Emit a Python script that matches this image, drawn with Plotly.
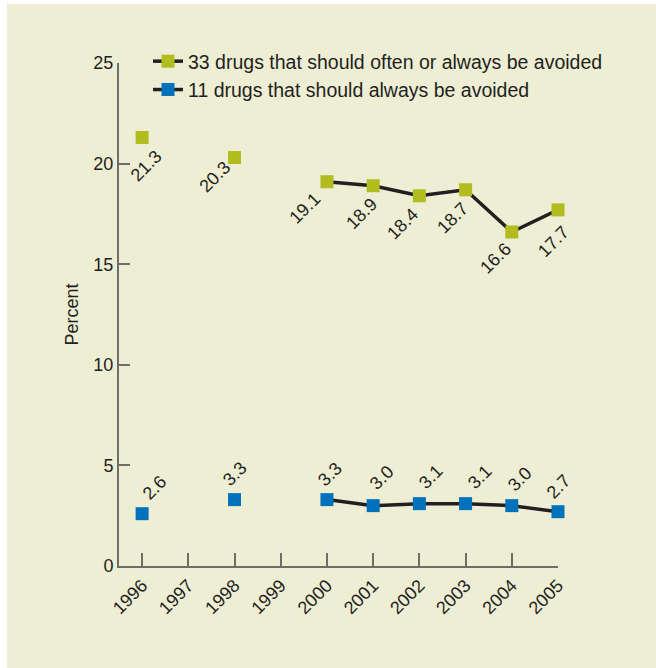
import plotly.graph_objects as go

# Dados
anos = [1996, 1997, 1998, 1999, 2000, 2001, 2002, 2003, 2004, 2005]
drogas_33 = [21.3, None, 20.3, None, 19.1, 18.9, 18.4, 18.7, 16.6, 17.7]
drogas_11 = [2.6, None, 3.3, None, 3.3, 3.0, 3.1, 3.1, 3.0, 2.7]
nome_33 = "33 drugs that should often or always be avoided"
nome_11 = "11 drugs that should always be avoided"

# Estilo
bege = "#EEEED4"
verde = "#B1BC1F"
azul = "#0072BC"
escuro = "#231F20"
cinza = "#6D6E6A"
fonte = "Liberation Sans, Arial, sans-serif"

# deslocamento dos rótulos (px) em relação ao marcador
desloc_33 = [(4, -29), None, (-20, -19), None, (-22, -26), (-12, -28), (-17, -28), (-13, -28), (-16, -26), (-5, -32)]
desloc_11 = [(12, 26), None, (0, 26), None, (3, 26), (8, 28), (11, 27), (14, 27), (8, 27), (0, 25)]

fig = go.Figure()
for nome, valores, cor in [(nome_33, drogas_33, verde), (nome_11, drogas_11, azul)]:
    fig.add_trace(go.Scatter(
        x=anos, y=valores, name=nome, mode="lines+markers",
        line=dict(color=escuro, width=3.5),
        marker=dict(symbol="square", size=13, color=cor),
        connectgaps=False, cliponaxis=False
    ))

# Rótulos inclinados
anotacoes = []
for valores, desloc in [(drogas_33, desloc_33), (drogas_11, desloc_11)]:
    for ano, v, d in zip(anos, valores, desloc):
        if v is None:
            continue
        anotacoes.append(dict(
            x=ano, y=v, text=f"{v:.1f}", textangle=-45, showarrow=False,
            xanchor="center", yanchor="middle", xshift=d[0], yshift=d[1],
            font=dict(size=18, color=escuro, family=fonte)
        ))

# fundo bege com faixa branca à esquerda e no topo
L, T, W, H = 119, 63, 439, 503
fundo = dict(
    type="rect", xref="paper", yref="paper", layer="below",
    x0=(7 - L) / W, x1=(660 - L) / W,
    y0=(T + H - 672) / H, y1=(T + H - 4) / H,
    fillcolor=bege, line=dict(width=0)
)

fig.update_layout(
    width=656, height=668,
    margin=dict(l=L, r=656 - L - W, t=T, b=668 - T - H),
    paper_bgcolor="white", plot_bgcolor="rgba(0,0,0,0)",
    font=dict(family=fonte, size=18, color=escuro),
    shapes=[fundo],
    annotations=anotacoes,
    showlegend=True,
    legend=dict(
        x=(148 - L) / W, xanchor="left",
        y=(T + H - 42) / H, yanchor="top",
        bgcolor="rgba(0,0,0,0)", font=dict(size=19.5, color=escuro, family=fonte),
        tracegroupgap=0
    ),
    xaxis=dict(
        range=[1995.5, 2005], tickmode="array", tickvals=anos,
        ticks="inside", ticklen=13, tickwidth=1.5, tickcolor=cinza,
        showline=True, linecolor=cinza, linewidth=2,
        showgrid=False, zeroline=False, tickangle=-45,
        tickfont=dict(size=18, color=escuro)
    ),
    yaxis=dict(
        range=[0, 25], dtick=5,
        ticks="inside", ticklen=11, tickwidth=1.5, tickcolor=cinza,
        showline=True, linecolor=cinza, linewidth=2,
        showgrid=False, zeroline=False,
        tickfont=dict(size=18, color=escuro),
        title=dict(text="Percent", font=dict(size=18, color=escuro), standoff=10)
    )
)

fig.write_html("out.html", config={"displayModeBar": False},
               post_script="document.body.style.margin='0';")
